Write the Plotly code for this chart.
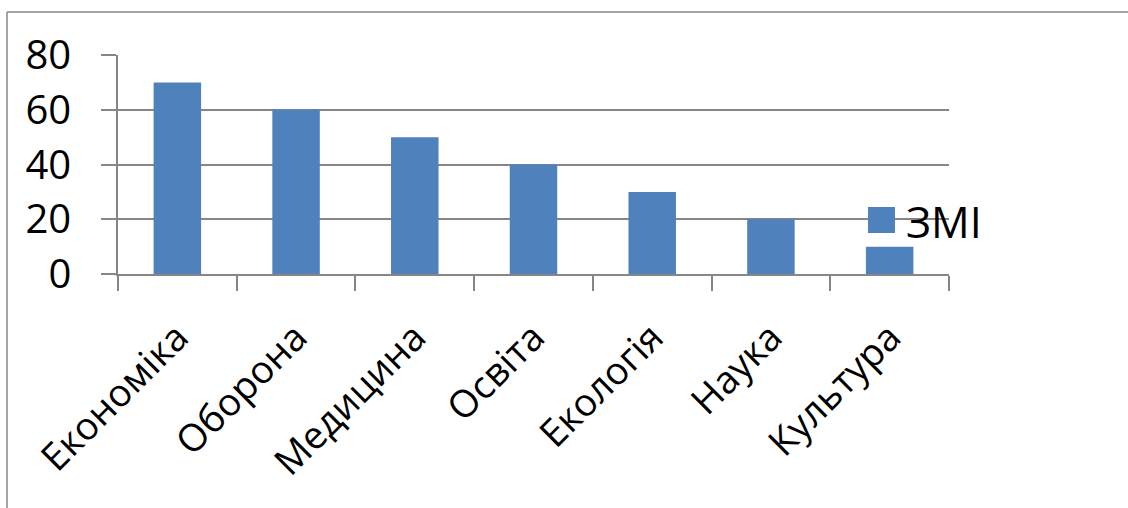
import plotly.graph_objects as go

categories = ["Економіка", "Оборона", "Медицина", "Освіта", "Екологія", "Наука", "Культура"]
values = [70, 60, 50, 40, 30, 20, 10]
series_name = "ЗМІ"
y_ticks = [0, 20, 40, 60, 80]

BAR = "#4F81BD"
GRID = "#868686"
FONT = "Open Sans"

W, H = 1128, 508
L, R, T, B = 118, 179, 55, 234
pw = W - L - R
ph = H - T - B

def px_x(p):
    return (p - L) / pw

def px_y(p):
    return (H - B - p) / ph

fig = go.Figure()
fig.add_trace(go.Bar(x=categories, y=values, name=series_name, marker=dict(color=BAR, line=dict(width=0)),
                     showlegend=False))

fig.update_layout(
    width=W, height=H,
    margin=dict(l=L, r=R, t=T, b=B, pad=0, autoexpand=False),
    paper_bgcolor="white", plot_bgcolor="white",
    bargap=0.6,
    font=dict(family=FONT, color="black"),
    xaxis=dict(
        type="category", tickangle=-45, tickfont=dict(size=38, family=FONT),
        showline=True, linecolor=GRID, linewidth=1.5,
        ticks="outside", ticklen=15, tickcolor=GRID, tickwidth=1.5,
        tickson="boundaries", showgrid=False, ticklabelstandoff=24,
        automargin=False,
    ),
    yaxis=dict(
        range=[0, 80], tickvals=y_ticks, tickfont=dict(size=40, family=FONT),
        showline=True, linecolor=GRID, linewidth=1.5,
        ticks="outside", ticklen=15, tickcolor=GRID, tickwidth=1.5,
        showgrid=True, gridcolor=GRID, gridwidth=1.5, zeroline=False,
        ticklabelstandoff=22, automargin=False,
    ),
    shapes=[
        # chart border: left and top edges (right/bottom lie outside the picture)
        dict(type="line", xref="paper", yref="paper",
             x0=px_x(7), x1=px_x(7), y0=px_y(H + 20), y1=px_y(12),
             line=dict(color=GRID, width=1.5), layer="below"),
        dict(type="line", xref="paper", yref="paper",
             x0=px_x(7), x1=px_x(W + 20), y0=px_y(12), y1=px_y(12),
             line=dict(color=GRID, width=1.5), layer="below"),
        # legend swatch
        dict(type="rect", xref="paper", yref="paper",
             x0=px_x(868), x1=px_x(895), y0=px_y(233), y1=px_y(207),
             line=dict(width=0), fillcolor=BAR, layer="above"),
    ],
    annotations=[
        dict(text=series_name, xref="paper", yref="paper", x=px_x(904), y=px_y(221),
             xanchor="left", yanchor="middle", showarrow=False,
             font=dict(size=43, family=FONT, color="black")),
    ],
)

fig.write_html("out.html", config={"displayModeBar": False},
               post_script="document.body.style.margin='0';document.body.style.overflow='hidden';")
